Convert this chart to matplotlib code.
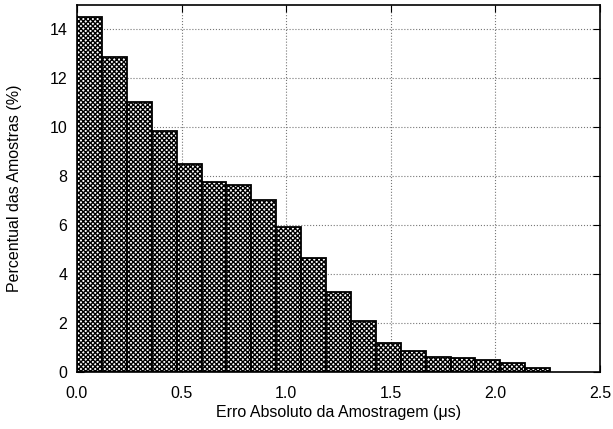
import numpy as np
import matplotlib.pyplot as plt

plt.rcParams['font.family'] = ['Liberation Sans', 'DejaVu Sans']
plt.rcParams['hatch.linewidth'] = 1.0

# histogram data
bin_width = 2.5 / 21
percent = [14.48, 12.87, 11.04, 9.84, 8.51, 7.75, 7.65, 7.01, 5.92, 4.67,
           3.26, 2.10, 1.20, 0.87, 0.63, 0.59, 0.50, 0.35, 0.15]
edges = np.arange(len(percent)) * bin_width

xticks = [0.0, 0.5, 1.0, 1.5, 2.0, 2.5]
xticklabels = ['0.0', '0.5', '1.0', '1.5', '2.0', '2.5']
yticks = [0, 2, 4, 6, 8, 10, 12, 14]

fig = plt.figure(figsize=(6.13, 4.29), dpi=100)
ax = fig.add_axes([0.1256, 0.1329, 0.8532, 0.8561])

ax.bar(edges, percent, width=bin_width, align='edge', color='white',
       edgecolor='black', hatch='xxxxxxx', linewidth=1.3, zorder=3)

ax.set_xlim(0, 2.5)
ax.set_ylim(0, 15)
ax.set_xticks(xticks)
ax.set_xticklabels(xticklabels)
ax.set_yticks(yticks)
ax.tick_params(direction='in', top=True, right=True, labelsize=11.5, length=5)
ax.tick_params(axis='x', pad=10)
ax.tick_params(axis='y', pad=7)
ax.grid(True, color='#777777', linestyle=':', linewidth=0.8, zorder=0)
for s in ax.spines.values():
    s.set_linewidth(1.2)
    s.set_zorder(4)

ax.set_xlabel('Erro Absoluto da Amostragem (μs)', fontsize=11.5, labelpad=3)
ax.set_ylabel('Percentual das Amostras (%)', fontsize=11.5, labelpad=20)

fig.savefig('out.png', dpi=100)
